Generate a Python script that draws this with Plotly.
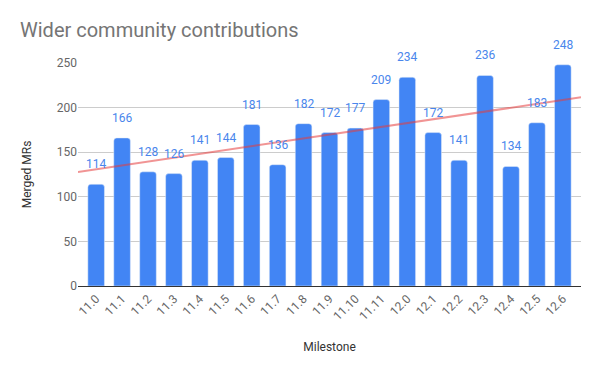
import numpy as np
import plotly.graph_objects as go

milestones = ["11.0", "11.1", "11.2", "11.3", "11.4", "11.5", "11.6", "11.7", "11.8", "11.9",
              "11.10", "11.11", "12.0", "12.1", "12.2", "12.3", "12.4", "12.5", "12.6"]
merged_mrs = [114, 166, 128, 126, 141, 144, 181, 136, 182, 172,
              177, 209, 234, 172, 141, 236, 134, 183, 248]
y_ticks = [0, 50, 100, 150, 200, 250]

idx = np.arange(len(milestones))
slope, intercept = np.polyfit(idx, merged_mrs, 1)
x_lo, x_hi = -0.7, len(milestones) - 1 + 0.7
trend_x = [x_lo, x_hi]
trend_y = [intercept + slope * x for x in trend_x]

fig = go.Figure()
fig.add_trace(go.Bar(
    x=idx, y=merged_mrs,
    marker=dict(color="#4285F4", cornerradius=3),
    showlegend=False, hoverinfo="x+y",
))
fig.add_trace(go.Scatter(
    x=trend_x, y=trend_y, mode="lines",
    line=dict(color="rgba(230,60,60,0.55)", width=2),
    showlegend=False, hoverinfo="skip",
))

annotations = [
    dict(x=int(i), y=v, text=str(v), xref="x", yref="y", showarrow=False,
         yanchor="bottom", yshift=11,
         font=dict(color="#4a86ec", size=12, family="Roboto"))
    for i, v in zip(idx, merged_mrs)
]

fig.update_layout(
    width=600, height=371,
    margin=dict(l=78, r=19, t=63, b=85),
    paper_bgcolor="white", plot_bgcolor="white",
    font=dict(family="Roboto", color="#666666", size=12),
    bargap=0.36,
    annotations=annotations,
    title=dict(text="Wider community contributions", x=20/600, xanchor="left",
               y=1 - 30/371, yanchor="middle",
               font=dict(size=20, color="#757575", family="Roboto")),
    xaxis=dict(
        range=[x_lo, x_hi], tickmode="array", tickvals=list(idx), ticktext=milestones,
        tickangle=-45, showgrid=False, zeroline=False,
        showline=True, linecolor="#333333", linewidth=1,
        tickfont=dict(size=12, color="#666666"),
        title=dict(text="Milestone", font=dict(size=12, color="#333333"), standoff=20),
    ),
    yaxis=dict(
        range=[0, 250], tickmode="array", tickvals=y_ticks,
        showgrid=True, gridcolor="#cccccc", gridwidth=1, zeroline=False,
        showline=False, ticks="", ticklen=0,
        tickfont=dict(size=12, color="#666666"),
        title=dict(text="Merged MRs", font=dict(size=12, color="#333333"), standoff=22),
    ),
)

fig.write_html("out.html", config={"displayModeBar": False},
               post_script="document.body.style.margin='0';")
